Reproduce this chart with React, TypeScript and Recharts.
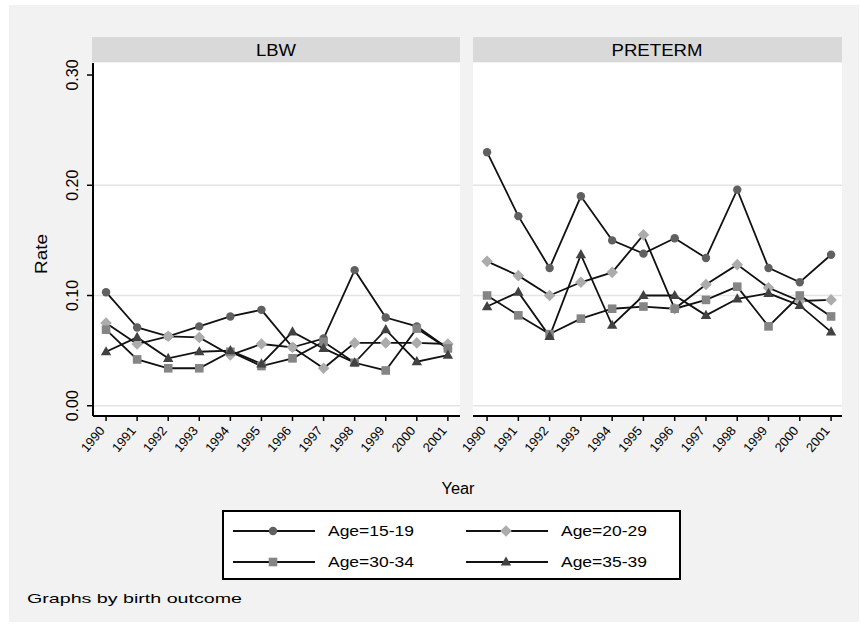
import React from 'react';
import { LineChart, Line, XAxis, YAxis, CartesianGrid } from 'recharts';

const years = [1990, 1991, 1992, 1993, 1994, 1995, 1996, 1997, 1998, 1999, 2000, 2001];
const seriesNames = ['Age=15-19', 'Age=20-29', 'Age=30-34', 'Age=35-39'];
const panelTitles = ['LBW', 'PRETERM'];
const yTicks = [0, 0.1, 0.2, 0.3];
const yTickLabels = ['0.00', '0.10', '0.20', '0.30'];

// LBW panel
const lbw1519 = [0.103, 0.071, 0.063, 0.072, 0.081, 0.087, 0.053, 0.061, 0.123, 0.080, 0.072, 0.052];
const lbw2029 = [0.075, 0.056, 0.063, 0.062, 0.046, 0.056, 0.053, 0.034, 0.057, 0.057, 0.057, 0.056];
const lbw3034 = [0.069, 0.042, 0.034, 0.034, 0.049, 0.036, 0.043, 0.058, 0.039, 0.032, 0.070, 0.052];
const lbw3539 = [0.049, 0.062, 0.043, 0.049, 0.050, 0.038, 0.067, 0.052, 0.039, 0.069, 0.040, 0.046];

// PRETERM panel
const pre1519 = [0.230, 0.172, 0.125, 0.190, 0.150, 0.138, 0.152, 0.134, 0.196, 0.125, 0.112, 0.137];
const pre2029 = [0.131, 0.118, 0.100, 0.112, 0.121, 0.155, 0.088, 0.110, 0.128, 0.107, 0.095, 0.096];
const pre3034 = [0.100, 0.082, 0.065, 0.079, 0.088, 0.090, 0.088, 0.096, 0.108, 0.072, 0.100, 0.081];
const pre3539 = [0.090, 0.103, 0.063, 0.137, 0.073, 0.100, 0.100, 0.082, 0.097, 0.102, 0.091, 0.067];

const colors = ['#606060', '#acacac', '#858585', '#424242'];
const shapes = ['circle', 'diamond', 'square', 'triangle'];
const FONT = '"Liberation Sans", Arial, sans-serif';

function build(a: number[], b: number[], c: number[], d: number[]) {
  return years.map((y, i) => ({ year: y, s0: a[i], s1: b[i], s2: c[i], s3: d[i] }));
}

const lbwData = build(lbw1519, lbw2029, lbw3034, lbw3539);
const preData = build(pre1519, pre2029, pre3034, pre3539);

function Marker({ shape, cx, cy, fill }: any) {
  if (cx == null || cy == null) return null;
  if (shape === 'circle') return <circle cx={cx} cy={cy} r={4.2} fill={fill} />;
  if (shape === 'diamond')
    return <polygon points={`${cx},${cy - 5.8} ${cx + 5.8},${cy} ${cx},${cy + 5.8} ${cx - 5.8},${cy}`} fill={fill} />;
  if (shape === 'square') return <rect x={cx - 4.3} y={cy - 4.3} width={8.6} height={8.6} fill={fill} />;
  return <polygon points={`${cx},${cy - 5.6} ${cx + 5.2},${cy + 3.6} ${cx - 5.2},${cy + 3.6}`} fill={fill} />;
}

const XTick = (props: any) => {
  const { x, payload } = props;
  return (
    <text
      transform={`translate(${x - 4},428) rotate(-50)`}
      textAnchor="end"
      dominantBaseline="central"
      fontSize={13}
      fill="#000"
      fontFamily={FONT}
    >
      {payload.value}
    </text>
  );
};

const YTick = (props: any) => {
  const { y, payload } = props;
  const idx = yTicks.findIndex((t) => Math.abs(t - payload.value) < 1e-9);
  return (
    <text
      transform={`translate(72,${y}) rotate(-90)`}
      textAnchor="middle"
      dominantBaseline="central"
      fontSize={16}
      fill="#000"
      fontFamily={FONT}
    >
      {idx >= 0 ? yTickLabels[idx] : ''}
    </text>
  );
};

function Panel({ data, left, width, marginLeft, showY, domainX }: any) {
  return (
    <div style={{ position: 'absolute', left, top: 0 }}>
      <LineChart width={width} height={470} data={data} margin={{ top: 63, right: 0, bottom: 4, left: marginLeft }}>
        <CartesianGrid
          vertical={false}
          horizontalValues={[0, 0.1, 0.2]}
          stroke="#e4e4e4"
          strokeWidth={1.5}
          fill="#ffffff"
          fillOpacity={1}
        />
        <XAxis
          dataKey="year"
          type="number"
          domain={domainX}
          ticks={years}
          interval={0}
          allowDataOverflow
          height={50}
          axisLine={{ stroke: '#000', strokeWidth: 2 }}
          tickLine={{ stroke: '#000', strokeWidth: 1.5 }}
          tickSize={5}
          tick={<XTick />}
        />
        <YAxis
          type="number"
          domain={[-0.0093, 0.3109]}
          ticks={yTicks}
          interval={0}
          allowDataOverflow
          width={showY ? 93 : 0}
          hide={!showY}
          axisLine={{ stroke: '#000', strokeWidth: 2 }}
          tickLine={{ stroke: '#000', strokeWidth: 1.5 }}
          tickSize={6}
          tick={<YTick />}
        />
        {[0, 1, 2, 3].map((k) => (
          <Line
            key={k}
            dataKey={`s${k}`}
            type="linear"
            stroke="#111"
            strokeWidth={1.8}
            isAnimationActive={false}
            dot={(p: any) => <Marker key={`d${k}-${p.index}`} shape={shapes[k]} cx={p.cx} cy={p.cy} fill={colors[k]} />}
            activeDot={false}
          />
        ))}
      </LineChart>
    </div>
  );
}

function LegendItem({ k, x, y }: any) {
  return (
    <g>
      <line x1={x} y1={y} x2={x + 82} y2={y} stroke="#111" strokeWidth={1.8} />
      <Marker shape={shapes[k]} cx={x + 40} cy={y} fill={colors[k]} />
      <text x={x + 95} y={y} dominantBaseline="central" fontSize={14} fill="#000" fontFamily={FONT} textLength={86} lengthAdjust="spacingAndGlyphs">
        {seriesNames[k]}
      </text>
    </g>
  );
}

export default function App() {
  return (
    <div style={{ position: 'absolute', left: 0, top: 0, width: 861, height: 628, background: '#ffffff', fontFamily: FONT }}>
      <svg width={861} height={628} style={{ position: 'absolute', left: 0, top: 0 }}>
        <rect x={9} y={5} width={850} height={617} fill="#f2f2f2" />
        <rect x={92} y={37} width={368} height={25} fill="#d9d9d9" />
        <rect x={473} y={37} width={369} height={25} fill="#d9d9d9" />
        <text x={276} y={50} textAnchor="middle" dominantBaseline="central" fontSize={17} fill="#000" fontFamily={FONT} textLength={40} lengthAdjust="spacingAndGlyphs">
          {panelTitles[0]}
        </text>
        <text x={657} y={50} textAnchor="middle" dominantBaseline="central" fontSize={17} fill="#000" fontFamily={FONT} textLength={91} lengthAdjust="spacingAndGlyphs">
          {panelTitles[1]}
        </text>
        <text transform="translate(41,254) rotate(-90)" textAnchor="middle" dominantBaseline="central" fontSize={17} fill="#000" fontFamily={FONT} textLength={40} lengthAdjust="spacingAndGlyphs">
          Rate
        </text>
        <text x={458} y={488} textAnchor="middle" dominantBaseline="central" fontSize={16} fill="#000" fontFamily={FONT} textLength={33} lengthAdjust="spacingAndGlyphs">
          Year
        </text>
        <rect x={223} y={511} width={457} height={68} fill="#ffffff" stroke="#000" strokeWidth={2} />
        <LegendItem k={0} x={233} y={531} />
        <LegendItem k={1} x={466} y={531} />
        <LegendItem k={2} x={233} y={562} />
        <LegendItem k={3} x={466} y={562} />
        <text x={27} y={598} dominantBaseline="central" fontSize={13} fill="#000" fontFamily={FONT} textLength={215} lengthAdjust="spacingAndGlyphs">
          Graphs by birth outcome
        </text>
      </svg>
      <Panel data={lbwData} left={0} width={460} marginLeft={0} showY={true} domainX={[1989.58, 2001.39]} />
      <Panel data={preData} left={433} width={409} marginLeft={40} showY={false} domainX={[1989.55, 2001.35]} />
    </div>
  );
}
